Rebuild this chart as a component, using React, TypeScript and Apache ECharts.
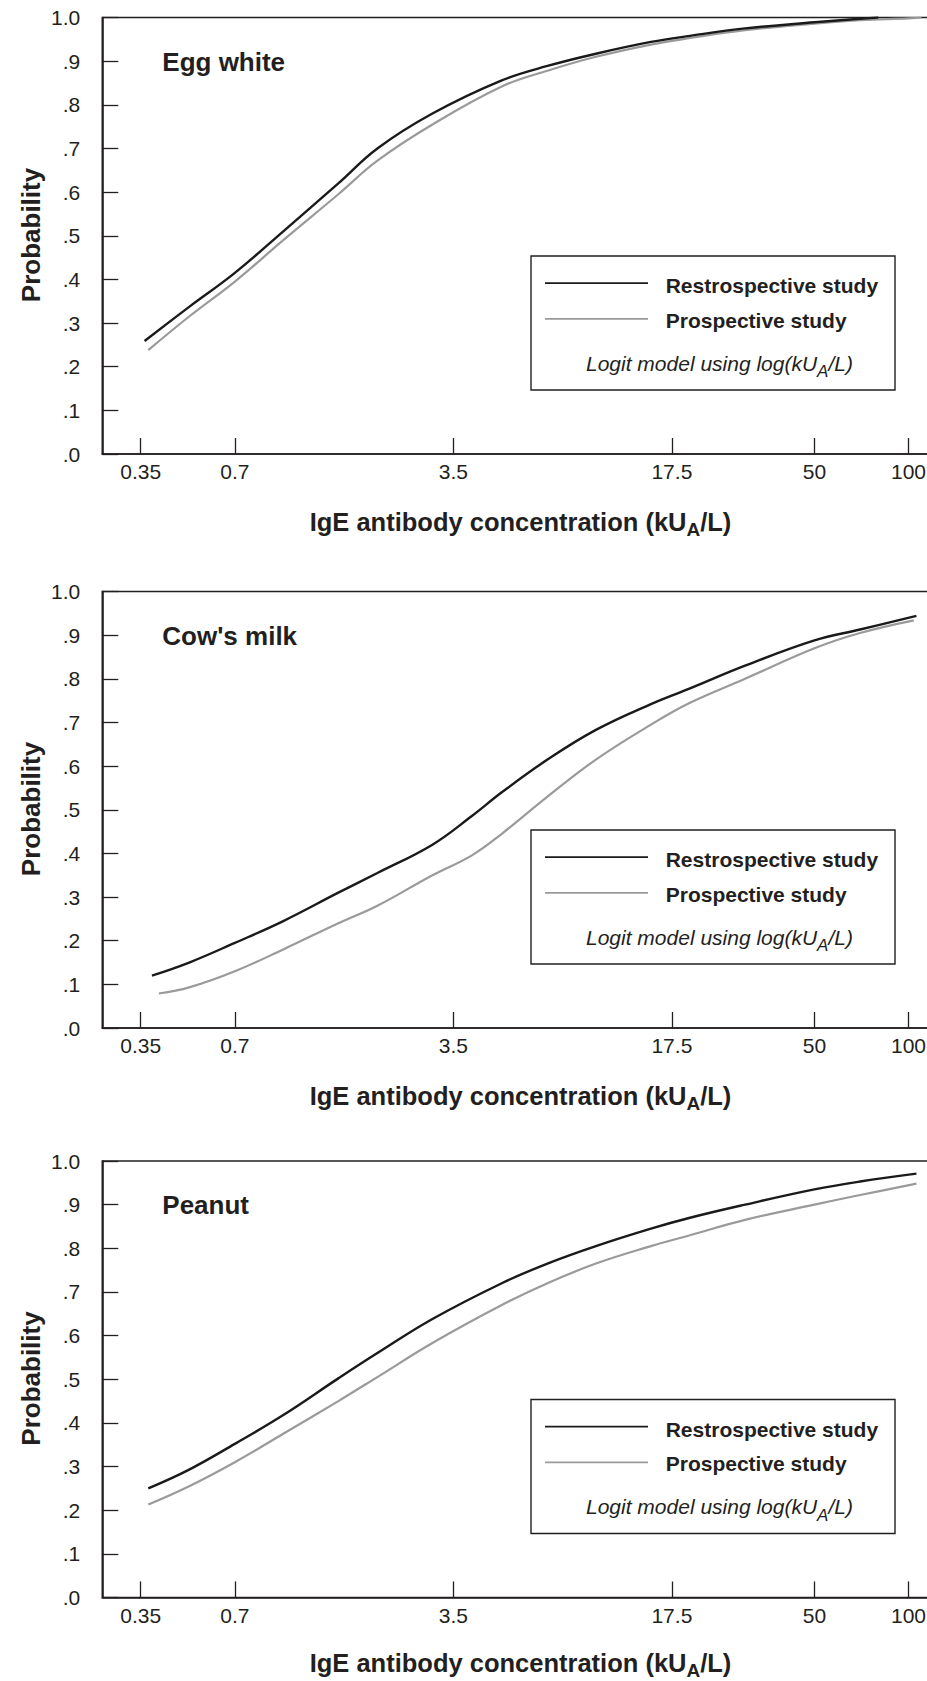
import React, { useEffect, useRef } from "react";
import * as echarts from "echarts";

// ---------- data ----------
const X_TICKS = [0.35, 0.7, 3.5, 17.5, 50, 100];
const X_TICK_LABELS = ["0.35", "0.7", "3.5", "17.5", "50", "100"];
const Y_TICK_LABELS = [".0", ".1", ".2", ".3", ".4", ".5", ".6", ".7", ".8", ".9", "1.0"];

const PANEL_TITLES = ["Egg white", "Cow's milk", "Peanut"];
const SERIES_NAMES = ["Restrospective study", "Prospective study"];
const MODEL_NOTE_MAIN = "Logit model using log(kU";
const MODEL_NOTE_SUB = "A";
const MODEL_NOTE_END = "/L)";
const X_TITLE_MAIN = "IgE antibody concentration (kU";
const X_TITLE_SUB = "A";
const X_TITLE_END = "/L)";
const Y_TITLE = "Probability";

// Egg white
const EGG_RETRO_CONC = [0.36, 0.5, 0.7, 1, 1.5, 2, 3, 5, 7, 10, 15, 20, 30, 50, 70, 80];
const EGG_RETRO_PROB = [0.259, 0.337, 0.415, 0.51, 0.62, 0.7, 0.78, 0.856, 0.889, 0.917, 0.944, 0.958, 0.975, 0.989, 0.997, 1.0];
const EGG_PROSP_CONC = [0.37, 0.5, 0.7, 1, 1.5, 2, 3, 5, 7, 10, 15, 20, 30, 50, 70, 100, 110];
const EGG_PROSP_PROB = [0.238, 0.315, 0.395, 0.49, 0.595, 0.672, 0.755, 0.842, 0.878, 0.91, 0.938, 0.953, 0.971, 0.986, 0.994, 0.998, 1.0];

// Cow's milk
const MILK_RETRO_CONC = [0.38, 0.5, 0.7, 1, 1.5, 2, 3, 4, 5, 7, 10, 15, 20, 30, 50, 70, 106];
const MILK_RETRO_PROB = [0.12, 0.15, 0.195, 0.245, 0.31, 0.355, 0.42, 0.485, 0.54, 0.615, 0.683, 0.742, 0.778, 0.83, 0.888, 0.913, 0.944];
const MILK_PROSP_CONC = [0.4, 0.5, 0.7, 1, 1.5, 2, 3, 4, 5, 7, 10, 15, 20, 30, 50, 70, 104];
const MILK_PROSP_PROB = [0.079, 0.093, 0.13, 0.18, 0.24, 0.28, 0.35, 0.395, 0.445, 0.53, 0.615, 0.695, 0.745, 0.8, 0.87, 0.905, 0.934];

// Peanut
const PEANUT_RETRO_CONC = [0.37, 0.5, 0.7, 1, 1.5, 2, 3, 5, 7, 10, 15, 20, 30, 50, 70, 106];
const PEANUT_RETRO_PROB = [0.25, 0.293, 0.352, 0.418, 0.502, 0.56, 0.638, 0.72, 0.765, 0.805, 0.845, 0.87, 0.9, 0.935, 0.953, 0.971];
const PEANUT_PROSP_CONC = [0.37, 0.5, 0.7, 1, 1.5, 2, 3, 5, 7, 10, 15, 20, 30, 50, 70, 106];
const PEANUT_PROSP_PROB = [0.213, 0.255, 0.31, 0.375, 0.45, 0.505, 0.583, 0.67, 0.72, 0.765, 0.805, 0.83, 0.865, 0.9, 0.922, 0.948];

const PANELS = [
  { title: PANEL_TITLES[0], retro: [EGG_RETRO_CONC, EGG_RETRO_PROB], prosp: [EGG_PROSP_CONC, EGG_PROSP_PROB] },
  { title: PANEL_TITLES[1], retro: [MILK_RETRO_CONC, MILK_RETRO_PROB], prosp: [MILK_PROSP_CONC, MILK_PROSP_PROB] },
  { title: PANEL_TITLES[2], retro: [PEANUT_RETRO_CONC, PEANUT_RETRO_PROB], prosp: [PEANUT_PROSP_CONC, PEANUT_PROSP_PROB] },
];

// ---------- layout / style ----------
const W = 927;
const H = 1681;
const GRID_TOPS = [17.5, 591.5, 1161];
const GRID_LEFT = 102.3;
const GRID_W = 837.5;
const GRID_H = 436.5;
const X_MIN_CONC = 0.2637;
const X_MAX_CONC = 125.9;
const FONT = '"Liberation Sans", Arial, Helvetica, sans-serif';
const INK = "#231f20";
const BLACK_LINE = "#1a1a1a";
const GRAY_LINE = "#9a9a9a";

const lg = (c: number) => Math.log10(c);

function xLabel(v: number): string {
  for (let i = 0; i < X_TICKS.length; i++) {
    if (Math.abs(lg(X_TICKS[i]) - v) < 1e-6) return X_TICK_LABELS[i];
  }
  return "";
}

function yLabel(v: number): string {
  const i = Math.round(v * 10);
  return Y_TICK_LABELS[i] ?? "";
}

function buildOption() {
  const grid: any[] = [];
  const xAxis: any[] = [];
  const yAxis: any[] = [];
  const series: any[] = [];
  const graphic: any[] = [];
  const tickVals = X_TICKS.map(lg);

  PANELS.forEach((p, i) => {
    const t = GRID_TOPS[i];
    grid.push({
      left: GRID_LEFT,
      top: t,
      width: GRID_W,
      height: GRID_H,
      show: true,
      borderColor: INK,
      borderWidth: 1.6,
      backgroundColor: "transparent",
      containLabel: false,
      outerBoundsMode: "none",
    });
    xAxis.push({
      type: "value",
      gridIndex: i,
      min: lg(X_MIN_CONC),
      max: lg(X_MAX_CONC),
      axisLine: { show: true, onZero: false, lineStyle: { color: INK, width: 1.6 } },
      axisTick: { show: true, inside: true, length: 16, customValues: tickVals, lineStyle: { color: INK, width: 1.3 } },
      axisLabel: {
        show: true,
        customValues: tickVals,
        formatter: (v: number) => xLabel(v),
        fontSize: 21,
        fontFamily: FONT,
        color: INK,
        margin: 7,
      },
      splitLine: { show: false },
    });
    yAxis.push({
      type: "value",
      gridIndex: i,
      min: 0,
      max: 1,
      interval: 0.1,
      axisLine: { show: true, onZero: false, lineStyle: { color: INK, width: 1.6 } },
      axisTick: { show: true, inside: true, length: 16, lineStyle: { color: INK, width: 1.3 } },
      axisLabel: {
        show: true,
        formatter: (v: number) => yLabel(v),
        fontSize: 21,
        fontFamily: FONT,
        color: INK,
        margin: 22,
      },
      splitLine: { show: false },
    });
    const mk = (name: string, arr: number[][], color: string, width: number, z: number) => ({
      type: "line",
      name,
      xAxisIndex: i,
      yAxisIndex: i,
      data: arr[0].map((c, j) => [lg(c), arr[1][j]]),
      showSymbol: false,
      smooth: 0.4,
      lineStyle: { color, width },
      z,
      silent: true,
    });
    series.push(mk(SERIES_NAMES[1], p.prosp, GRAY_LINE, 2.2, 2));
    series.push(mk(SERIES_NAMES[0], p.retro, BLACK_LINE, 2.4, 3));

    // panel title
    graphic.push({
      type: "text",
      x: 162.3,
      y: t + 44,
      style: { text: p.title, fontSize: 26, fontWeight: "bold", fontFamily: FONT, fill: INK, align: "left", verticalAlign: "middle" },
    });
    // y title
    graphic.push({
      type: "text",
      x: 31,
      y: t + 217.5,
      rotation: Math.PI / 2,
      style: { text: Y_TITLE, fontSize: 26, fontWeight: "bold", fontFamily: FONT, fill: INK, align: "center", verticalAlign: "middle" },
    });
    // x title
    graphic.push({
      type: "text",
      x: 520.5,
      y: Math.min(t + 504.5, H - 18),
      style: {
        text: `{m|${X_TITLE_MAIN}}{s|${X_TITLE_SUB}}{m|${X_TITLE_END}}`,
        align: "center",
        verticalAlign: "middle",
        rich: {
          m: { fontSize: 25.5, fontWeight: "bold", fontFamily: FONT, fill: INK },
          s: { fontSize: 19, fontWeight: "bold", fontFamily: FONT, fill: INK, padding: [15, 0, 0, 0] },
        },
      },
    });
    // legend box
    const bt = t + 238.5;
    graphic.push({
      type: "rect",
      shape: { x: 531, y: bt, width: 364, height: 134 },
      style: { fill: "none", stroke: INK, lineWidth: 1.4 },
      z: 10,
    });
    graphic.push({
      type: "line",
      shape: { x1: 545, y1: bt + 27.2, x2: 648, y2: bt + 27.2 },
      style: { stroke: BLACK_LINE, lineWidth: 1.8 },
      z: 10,
    });
    graphic.push({
      type: "line",
      shape: { x1: 545, y1: bt + 62.8, x2: 648, y2: bt + 62.8 },
      style: { stroke: GRAY_LINE, lineWidth: 1.8 },
      z: 10,
    });
    graphic.push({
      type: "text",
      x: 665.7,
      y: bt + 29.8,
      style: { text: SERIES_NAMES[0], fontSize: 21, fontWeight: "bold", fontFamily: FONT, fill: INK, align: "left", verticalAlign: "middle" },
      z: 10,
    });
    graphic.push({
      type: "text",
      x: 665.7,
      y: bt + 64.3,
      style: { text: SERIES_NAMES[1], fontSize: 21, fontWeight: "bold", fontFamily: FONT, fill: INK, align: "left", verticalAlign: "middle" },
      z: 10,
    });
    graphic.push({
      type: "text",
      x: 586,
      y: bt + 107,
      style: {
        text: `{m|${MODEL_NOTE_MAIN}}{s|${MODEL_NOTE_SUB}}{m|${MODEL_NOTE_END}}`,
        align: "left",
        verticalAlign: "middle",
        rich: {
          m: { fontSize: 21, fontStyle: "italic", fontFamily: FONT, fill: INK },
          s: { fontSize: 17, fontStyle: "italic", fontFamily: FONT, fill: INK, padding: [17, 0, 0, 0] },
        },
      },
      z: 10,
    });
  });

  return {
    animation: false,
    backgroundColor: "#ffffff",
    grid,
    xAxis,
    yAxis,
    series,
    graphic,
  };
}

export default function App() {
  const ref = useRef<HTMLDivElement>(null);
  useEffect(() => {
    document.body.style.margin = "0";
    if (!ref.current) return;
    const chart = echarts.init(ref.current, undefined, { renderer: "svg", width: W, height: H });
    chart.setOption(buildOption() as any);
    return () => chart.dispose();
  }, []);
  return <div ref={ref} style={{ width: W, height: H, position: "absolute", left: 0, top: 0 }} />;
}
